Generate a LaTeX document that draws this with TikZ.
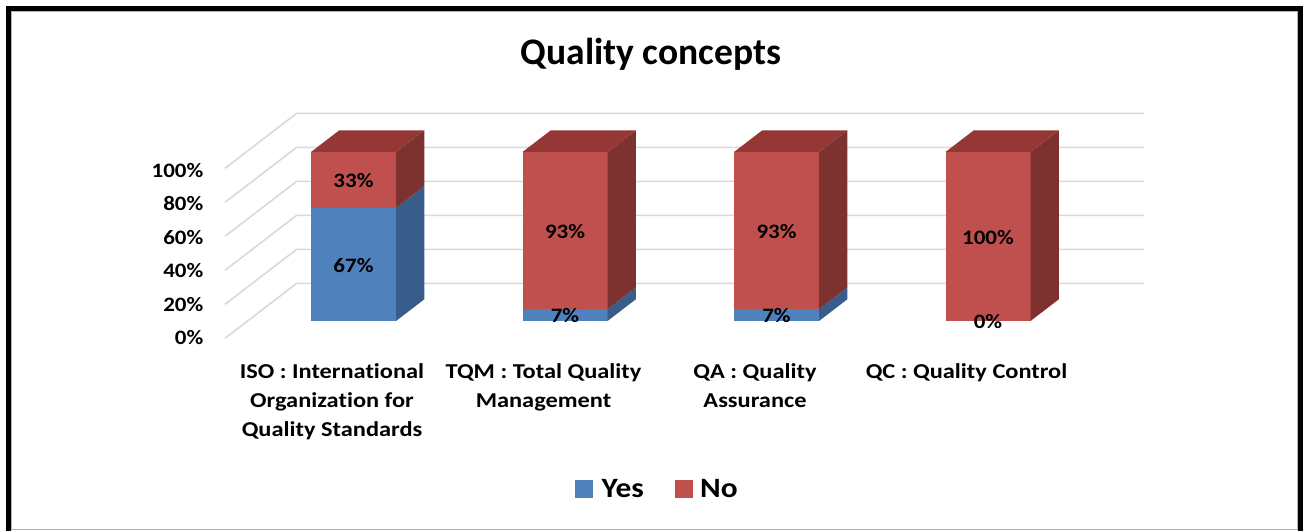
\documentclass[tikz,border=0pt]{standalone}
\usepackage{fontspec}
\setmainfont{Carlito}[Ligatures=NoCommon]
\newfontfamily\widefont{Carlito}[FakeStretch=1.12,Ligatures=NoCommon]
\newfontfamily\catfont{Carlito}[FakeStretch=1.15,Ligatures=NoCommon]
\newfontfamily\legfont{Carlito}[FakeStretch=1.12,Ligatures=NoCommon]
\definecolor{yesfront}{HTML}{4F81BD}
\definecolor{yesside}{HTML}{385D8A}
\definecolor{nofront}{HTML}{C0504D}
\definecolor{noside}{HTML}{7E3230}
\definecolor{notop}{HTML}{953735}
\definecolor{gridgray}{HTML}{D9D9D9}
\begin{document}
\begin{tikzpicture}[x=1pt,y=-1pt,
  gridline/.style={draw=gridgray,line width=1.6pt},
  axislabel/.style={font=\widefont\bfseries\fontsize{20.5}{20.5}\selectfont,anchor=base east,inner sep=0pt},
  vallabel/.style={font=\widefont\bfseries\fontsize{20.5}{20.5}\selectfont,anchor=base,inner sep=0pt},
  catlabel/.style={font=\catfont\bfseries\fontsize{21.2}{29}\selectfont,align=center,anchor=base,inner sep=0pt},
  legtext/.style={font=\legfont\bfseries\fontsize{28}{28}\selectfont,anchor=base west,inner sep=0pt},
  legbox/.style={minimum size=17.7pt,inner sep=0pt,anchor=north west}]
\useasboundingbox (0,0) rectangle (1303,531);
% frame
\draw[draw=gray!60,line width=0.8pt] (11.5,11.5) rectangle (1297.5,529);
\draw[line width=5pt] (8.5,531) -- (8.5,8.5) -- (1300.5,8.5) -- (1300.5,531);
% title
\node[font=\bfseries\fontsize{37.5}{37.5}\selectfont,anchor=base,inner sep=0pt] (title) at (651,64) {Quality concepts};
% gridlines
\foreach \k in {0,...,5}{
  \draw[gridline] (225,338.3-34*\k) -- (296.7,283.3-34*\k) -- (1144,283.3-34*\k);
}
% axis labels
\node[axislabel] (a0) at (203.5,344.5) {0\%};
\node[axislabel] (a20) at (203.5,311) {20\%};
\node[axislabel] (a40) at (203.5,277.5) {40\%};
\node[axislabel] (a60) at (203.5,244) {60\%};
\node[axislabel] (a80) at (203.5,210.5) {80\%};
\node[axislabel] (a100) at (203.5,177.3) {100\%};
% bars: left x, yes fraction
\foreach \L/\p in {311/0.67,522.5/0.07,734/0.07,945.5/0}{
  \pgfmathsetmacro{\ys}{321-169*\p}
  \ifdim \p pt>0pt
    \fill[yesfront] (\L,\ys) rectangle (\L+85,321);
    \fill[yesside] (\L+85,321) -- (\L+113.3,299.3) -- (\L+113.3,\ys-21.7) -- (\L+85,\ys) -- cycle;
  \fi
  \fill[nofront] (\L,152) rectangle (\L+85,\ys);
  \fill[noside] (\L+85,\ys) -- (\L+113.3,\ys-21.7) -- (\L+113.3,130.3) -- (\L+85,152) -- cycle;
  \fill[notop] (\L,152) -- (\L+28.3,130.3) -- (\L+113.3,130.3) -- (\L+85,152) -- cycle;
}
% value labels
\node[vallabel] (v1no) at (353.5,187.5) {33\%};
\node[vallabel] (v1yes) at (353.5,272) {67\%};
\node[vallabel] (v2no) at (565,238) {93\%};
\node[vallabel] (v2yes) at (565,322.5) {7\%};
\node[vallabel] (v3no) at (776.5,238) {93\%};
\node[vallabel] (v3yes) at (776.5,322.5) {7\%};
\node[vallabel] (v4no) at (988,244) {100\%};
\node[vallabel] (v4yes) at (988,328.5) {0\%};
% category labels (anchor = baseline of last line)
\node[catlabel] (c1) at (332,436.5) {ISO : International\\Organization for\\Quality Standards};
\node[catlabel] (c2) at (543.5,407.5) {TQM : Total Quality\\Management};
\node[catlabel] (c3) at (755,407.5) {QA : Quality\\Assurance};
\node[catlabel] (c4) at (966.5,378.5) {QC : Quality Control};
% legend
\node[legbox,fill=yesfront] (lyes) at (575,480) {};
\node[legtext] (tyes) at (601.5,497.5) {Yes};
\node[legbox,fill=nofront] (lno) at (675,480) {};
\node[legtext] (tno) at (700,497.5) {No};
\end{tikzpicture}
\end{document}
